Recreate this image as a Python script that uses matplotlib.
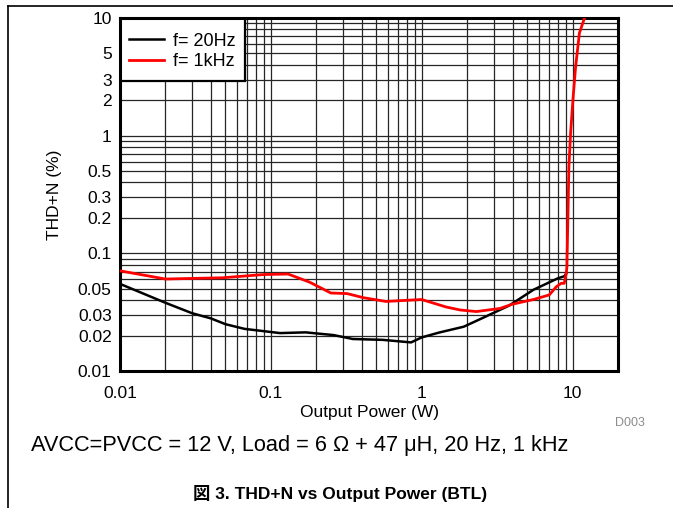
import matplotlib.pyplot as plt
from matplotlib.lines import Line2D
from matplotlib.patches import Rectangle

plt.rcParams['font.family'] = ['Liberation Sans', 'Noto Sans CJK JP', 'DejaVu Sans']

# THD+N curves, BTL output
power_20hz = [0.01, 0.02, 0.03, 0.04, 0.05, 0.067, 0.115, 0.17, 0.26, 0.35, 0.55,
              0.85, 1.0, 1.3, 1.9, 2.5, 3.8, 5.5, 8.0, 8.85, 9.1]
thd_20hz = [0.055, 0.038, 0.031, 0.028, 0.025, 0.0228, 0.021, 0.0213, 0.0202, 0.0187, 0.0184,
            0.0175, 0.0193, 0.0212, 0.0238, 0.028, 0.036, 0.049, 0.0614, 0.064, 0.068]

power_1khz = [0.01, 0.02, 0.048, 0.089, 0.13, 0.18, 0.25, 0.32, 0.41, 0.58, 0.83, 1.0,
              1.45, 1.8, 2.3, 3.3, 4.0, 5.5, 7.0, 7.8, 8.4, 8.8, 9.08, 9.17, 9.45, 9.7,
              10.05, 10.47, 11.1, 12.0]
thd_1khz = [0.071, 0.0605, 0.062, 0.066, 0.0667, 0.057, 0.046, 0.0455, 0.042, 0.039, 0.040, 0.0405,
            0.035, 0.033, 0.032, 0.034, 0.037, 0.0405, 0.0443, 0.052, 0.0556, 0.0556, 0.0676, 0.0765,
            0.542, 1.05, 2.01, 3.83, 7.46, 10.0]

x_ticks = [0.01, 0.1, 1, 10]
x_tick_labels = ['0.01', '0.1', '1', '10']
y_ticks = [0.01, 0.02, 0.03, 0.05, 0.1, 0.2, 0.3, 0.5, 1, 2, 3, 5, 10]
y_tick_labels = ['0.01', '0.02', '0.03', '0.05', '0.1', '0.2', '0.3', '0.5', '1', '2', '3', '5', '10']

fig = plt.figure(figsize=(6.73, 5.08), dpi=100)
ax = fig.add_axes([120 / 673, 1 - 371 / 508, 498 / 673, 353 / 508])

ax.plot(power_20hz, thd_20hz, color='black', lw=1.8, label='f= 20Hz', zorder=3)
ax.plot(power_1khz, thd_1khz, color='#ff0000', lw=2.0, label='f= 1kHz', zorder=4)

ax.set_xscale('log')
ax.set_yscale('log')
ax.set_xlim(0.01, 20)
ax.set_ylim(0.01, 10)

ax.set_xticks(x_ticks)
ax.set_xticklabels(x_tick_labels)
ax.set_yticks(y_ticks)
ax.set_yticklabels(y_tick_labels)
ax.tick_params(axis='both', which='both', length=0, labelsize=12.5)
ax.tick_params(axis='x', pad=11)
ax.tick_params(axis='y', pad=6)

ax.grid(True, which='both', color='#262626', lw=0.9)
ax.set_axisbelow(True)
for s in ax.spines.values():
    s.set_linewidth(2.2)

# legend box drawn separately so it can be taller than the text needs
ax.add_patch(Rectangle((0, 1 - 63 / 353), 125 / 498, 63 / 353, transform=ax.transAxes,
                       facecolor='white', edgecolor='black', lw=1.6, zorder=2.4))
leg = ax.legend(loc='upper left', bbox_to_anchor=(0, 1 - 5.5 / 353), borderaxespad=0,
                frameon=False, fontsize=13, handlelength=1.94, handletextpad=0.5,
                labelspacing=0.2, borderpad=0.5)

fig.text(55 / 673, 1 - 195 / 508, 'THD+N (%)', rotation=90, ha='center', va='center', fontsize=12.5)
fig.text(369 / 673, 1 - 412 / 508, 'Output Power (W)', ha='center', va='center', fontsize=12.5)
fig.text(630 / 673, 1 - 423 / 508, 'D003', ha='center', va='center', fontsize=9, color='#8c8c8c')
fig.text(31 / 673, 1 - 445 / 508, 'AVCC=PVCC = 12 V, Load = 6 \u03a9 + 47 \u03bcH, 20 Hz, 1 kHz',
         ha='left', va='center', fontsize=15.7)
fig.text(340 / 673, 1 - 493 / 508, '図 3. THD+N vs Output Power (BTL)', ha='center', va='center',
         fontsize=12.5, fontweight='bold')

# page border lines
fig.add_artist(Line2D([7.5 / 673, 1], [1 - 6 / 508, 1 - 6 / 508], color='black', lw=1.2))
fig.add_artist(Line2D([7.5 / 673, 7.5 / 673], [0, 1 - 6 / 508], color='black', lw=1.2))

fig.savefig('out.png', dpi=100)
